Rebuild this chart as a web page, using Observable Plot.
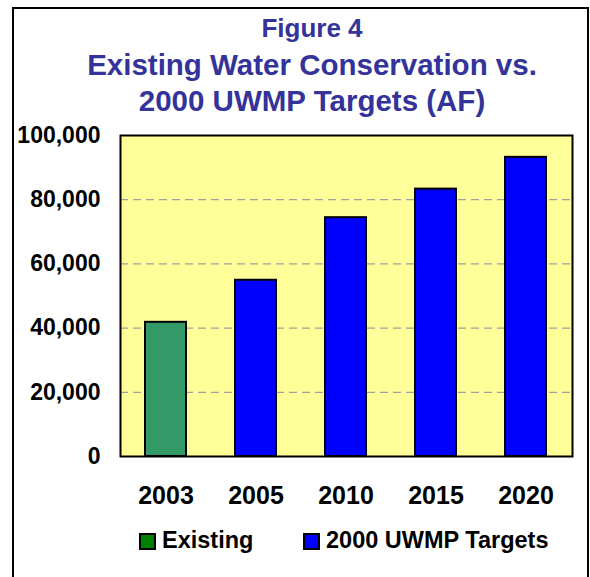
<!DOCTYPE html>
<html>
<head>
<meta charset="utf-8">
<script src="https://cdn.jsdelivr.net/npm/d3@7"></script>
<script src="https://cdn.jsdelivr.net/npm/@observablehq/plot@0.6"></script>
<style>
  html, body { margin: 0; padding: 0; background: #fff; }
  #wrap { position: relative; width: 590px; height: 577px; overflow: hidden; background: #fff; font-family: "Liberation Sans", Arial, sans-serif; font-weight: bold; }
  #border { position: absolute; left: 12px; top: 7px; width: 577px; height: 620px; box-sizing: border-box; border: 2px solid #000; }
  .tl { position: absolute; left: 0; width: 624px; text-align: center; color: #333399; white-space: nowrap; }
  #chart { position: absolute; left: 0; top: 0; }
  .sw { position: absolute; width: 17px; height: 17px; box-sizing: border-box; border: 2px solid #000; top: 533px; }
  .lt { position: absolute; top: 529px; font-size: 23.5px; line-height: 23.5px; color: #000; white-space: nowrap; }
</style>
</head>
<body>
<div id="wrap">
  <div id="border"></div>
  <div class="tl" style="top:15px;font-size:26px;line-height:26px">Figure 4</div>
  <div class="tl" style="top:49.5px;font-size:29.5px;line-height:29.5px">Existing Water Conservation vs.</div>
  <div class="tl" style="top:85.5px;font-size:29.5px;line-height:29.5px">2000 UWMP Targets (AF)</div>
  <div id="chart"></div>
  <div class="sw" style="left:139px;background:#008000"></div>
  <div class="lt" style="left:162px">Existing</div>
  <div class="sw" style="left:303px;background:#0000FF"></div>
  <div class="lt" style="left:326px">2000 UWMP Targets</div>
</div>
<script>
const years = ["2003", "2005", "2010", "2015", "2020"];
const values = [41800, 54900, 74400, 83300, 93200];
const series = ["Existing", "2000 UWMP Targets", "2000 UWMP Targets", "2000 UWMP Targets", "2000 UWMP Targets"];
const seriesNames = ["Existing", "2000 UWMP Targets"];
const seriesColors = ["#339966", "#0000FF"];
const yTicks = [0, 20000, 40000, 60000, 80000, 100000];
const gridTicks = [20000, 40000, 60000, 80000];

const data = years.map((y, i) => ({year: y, value: values[i], series: series[i]}));

const chart = Plot.plot({
  width: 590,
  height: 577,
  marginTop: 135,
  marginBottom: 121,
  marginLeft: 120,
  marginRight: 18,
  style: {background: "transparent", fontFamily: "Liberation Sans, Arial, sans-serif", fontWeight: "bold", color: "#000"},
  x: {domain: years, paddingInner: 0.54, paddingOuter: 0.27, label: null},
  y: {domain: [0, 100000], label: null},
  color: {domain: seriesNames, range: seriesColors},
  marks: [
    Plot.frame({fill: "#FFFF99"}),
    Plot.ruleY(gridTicks, {stroke: "#a0a0a0", strokeWidth: 1.3, strokeDasharray: "8,5"}),
    Plot.barY(data, {x: "year", y: "value", fill: "series", stroke: "#000", strokeWidth: 2}),
    Plot.frame({stroke: "#000", strokeWidth: 2}),
    Plot.axisY({ticks: yTicks, tickFormat: d3.format(","), tickSize: 0, tickPadding: 20, fontSize: 23, fontWeight: "bold", fill: "#000", label: null}),
    Plot.axisX({tickSize: 0, tickPadding: 30, fontSize: 25, fontWeight: "bold", fill: "#000", label: null})
  ]
});
document.getElementById("chart").appendChild(chart);
</script>
</body>
</html>
